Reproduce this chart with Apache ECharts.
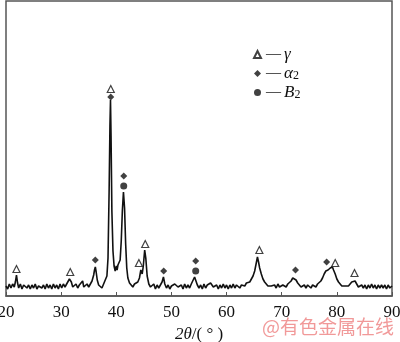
<!DOCTYPE html>
<html>
<head>
<meta charset="utf-8">
<script src="https://cdn.jsdelivr.net/npm/echarts@6/dist/echarts.min.js"></script>
<style>
html, body { margin: 0; padding: 0; background: #fff; }
#xrd { width: 400px; height: 342px; }
</style>
</head>
<body>
<div id="xrd"></div>
<script type="text/javascript">
// XRD 衍射谱 (2θ, 强度)
var angles = [
    20.0, 20.3, 20.6, 20.9, 21.2, 21.5, 21.7, 21.9, 22.1, 22.3, 22.6, 22.9, 23.2, 23.5, 23.8, 24.1, 24.4, 24.7,
    25.0, 25.3, 25.6, 25.9, 26.2, 26.5, 26.8, 27.1, 27.4, 27.7, 28.0, 28.3, 28.6, 28.9, 29.2, 29.5, 29.8,
    30.1, 30.4, 30.7, 31.0, 31.3, 31.5, 31.65, 31.85, 32.1, 32.4, 32.7, 33.0, 33.3, 33.6, 33.9, 34.1, 34.4,
    34.7, 35.0, 35.3, 35.6, 35.9, 36.05, 36.2, 36.35, 36.55, 36.8, 37.1, 37.4, 37.7, 38.0, 38.3, 38.5,
    38.7, 38.85, 38.95, 39.05, 39.2, 39.4, 39.6, 39.8, 40.0, 40.15, 40.3, 40.5, 40.7, 40.9, 41.1, 41.3,
    41.5, 41.7, 41.9, 42.1, 42.4, 42.7, 43.0, 43.3, 43.6, 43.9, 44.2, 44.45, 44.7, 44.9, 45.15, 45.35,
    45.6, 45.9, 46.2, 46.5, 46.8, 47.1, 47.4, 47.7, 48.0, 48.3, 48.55, 48.8, 49.1, 49.4, 49.7, 50.0,
    50.3, 50.6, 50.9, 51.2, 51.5, 51.8, 52.1, 52.4, 52.7, 53.0, 53.3, 53.6, 53.9, 54.2, 54.45, 54.7,
    55.0, 55.3, 55.6, 55.9, 56.2, 56.5, 56.8, 57.1, 57.35, 57.6, 57.9, 58.2, 58.5, 58.8, 59.1, 59.4,
    59.7, 60.0, 60.3, 60.6, 60.9, 61.2, 61.5, 61.8, 62.1, 62.4, 62.7, 63.0, 63.3, 63.6, 63.9, 64.2,
    64.5, 64.8, 65.1, 65.35, 65.6, 65.8, 66.0, 66.3, 66.6, 66.9, 67.2, 67.5, 67.8, 68.1, 68.4, 68.7,
    69.0, 69.3, 69.6, 69.9, 70.2, 70.5, 70.8, 71.1, 71.4, 71.7, 72.0, 72.3, 72.6, 72.9, 73.2, 73.5,
    73.8, 74.1, 74.4, 74.7, 75.0, 75.3, 75.6, 75.9, 76.2, 76.5, 76.8, 77.1, 77.4, 77.7, 78.0, 78.2,
    78.4, 78.6, 78.8, 79.0, 79.2, 79.4, 79.7, 80.0, 80.3, 80.6, 80.9, 81.2, 81.5, 81.8, 82.1, 82.4,
    82.7, 83.0, 83.3, 83.6, 83.9, 84.2, 84.5, 84.8, 85.1, 85.4, 85.7, 86.0, 86.3, 86.6, 86.9, 87.2,
    87.5, 87.8, 88.1, 88.4, 88.7, 89.0, 89.3, 89.6, 90.0
];
var intensity = [
    10, 7, 12, 8, 12, 9, 14, 21, 13, 8, 12, 7, 11, 12, 8, 11, 7, 11,
    8, 12, 7, 10, 12, 8, 11, 7, 12, 8, 11, 7, 12, 8, 11, 7, 12,
    8, 12, 9, 12, 14, 17, 19, 14, 9, 8, 12, 8, 11, 12, 15, 9,
    8, 12, 9, 12, 15, 21, 26, 29, 24, 16, 11, 9, 8, 12, 13, 20, 38,
    105, 170, 196, 160, 85, 45, 30, 25, 30, 26, 31, 29, 36, 55, 85, 104,
    88, 52, 28, 18, 13, 11, 9, 12, 10, 14, 18, 26, 22, 30, 46, 38,
    20, 12, 9, 8, 12, 7, 11, 8, 11, 14, 19, 12, 8, 11, 7, 10,
    8, 12, 13, 9, 8, 11, 7, 12, 8, 11, 8, 12, 14, 19, 15, 11,
    8, 11, 7, 12, 8, 11, 11, 13, 12, 9, 8, 11, 7, 11, 8, 12,
    8, 11, 7, 11, 8, 12, 8, 11, 11, 8, 11, 12, 10, 13, 12, 14,
    16, 20, 25, 32, 39, 34, 28, 22, 17, 14, 12, 10, 11, 10, 8, 11,
    8, 12, 9, 8, 11, 12, 9, 12, 13, 15, 18, 19, 16, 13, 11, 9,
    8, 11, 8, 11, 12, 8, 11, 12, 9, 12, 13, 15, 18, 22, 25, 23,
    26, 24, 28, 27, 29, 26, 22, 17, 14, 12, 10, 11, 10, 11, 10, 12,
    14, 16, 15, 12, 9, 8, 11, 8, 11, 7, 11, 8, 12, 8, 11, 7,
    11, 8, 11, 8, 11, 7, 11, 8, 10
];

// 物相标记位置
var gammaMarks = [[21.9, 27], [31.65, 24], [39.0, 207], [44.1, 33], [45.25, 52], [65.95, 46], [79.7, 33], [83.2, 23]];
var alpha2Marks = [[36.2, 36], [39.0, 199], [41.35, 120], [48.6, 25], [54.4, 35], [72.5, 26], [78.15, 34]];
var b2Marks = [[41.35, 110], [54.4, 25]];

var xTicks = [20, 30, 40, 50, 60, 70, 80, 90];

var curve = angles.map(function (a, i) { return [a, intensity[i]]; });

var chart = echarts.init(document.getElementById('xrd'));
var serif = '"Liberation Serif", "DejaVu Serif", serif';
var option = {
    animation: false,
    grid: {
        left: 6,
        right: 8,
        top: 1,
        bottom: 46,
        outerBoundsMode: 'none',
        containLabel: false,
        show: true,
        borderColor: '#555',
        borderWidth: 1.5
    },
    legend: {
        orient: 'vertical',
        left: 248,
        top: 41,
        itemWidth: 7,
        itemHeight: 7,
        itemGap: 1,
        data: [
            { name: 'γ', icon: 'triangle' },
            { name: 'α2', icon: 'diamond' },
            { name: 'B2', icon: 'circle' }
        ],
        formatter: function (name) {
            if (name === 'γ') return '{d|—} {i|γ}';
            if (name === 'α2') return '{d|—} {i|α}{s|2}';
            return '{d|—} {i|B}{s|2}';
        },
        textStyle: {
            fontFamily: serif,
            color: '#111',
            lineHeight: 17,
            rich: {
                d: { fontSize: 15, fontFamily: serif, color: '#111', lineHeight: 17 },
                i: { fontSize: 17, fontStyle: 'italic', fontFamily: serif, color: '#111', lineHeight: 17 },
                s: { fontSize: 12, fontFamily: serif, color: '#111', lineHeight: 17, verticalAlign: 'bottom', padding: [6, 0, 0, 0] }
            }
        }
    },
    xAxis: {
        type: 'value',
        min: 20,
        max: 90,
        interval: 10,
        name: '{i|2θ}/( ° )',
        nameLocation: 'middle',
        nameGap: 30,
        nameTextStyle: {
            fontFamily: serif,
            fontSize: 17,
            color: '#111',
            rich: {
                i: { fontStyle: 'italic', fontFamily: serif, fontSize: 17, color: '#111' }
            }
        },
        axisLine: { lineStyle: { color: '#555', width: 1.5 } },
        axisTick: { inside: true, length: 4, lineStyle: { color: '#555' } },
        axisLabel: {
            fontFamily: serif,
            fontSize: 17,
            color: '#111',
            margin: 8,
            formatter: function (v) { return xTicks.indexOf(v) >= 0 ? String(v) : ''; }
        },
        splitLine: { show: false }
    },
    yAxis: {
        type: 'value',
        min: 0,
        max: 295,
        axisLine: { show: false },
        axisTick: { show: false },
        axisLabel: { show: false },
        splitLine: { show: false }
    },
    series: [
        {
            name: 'pattern',
            type: 'line',
            data: curve,
            symbol: 'none',
            lineStyle: { color: '#111', width: 1.6 },
            z: 2
        },
        {
            name: 'γ',
            type: 'scatter',
            symbol: 'triangle',
            symbolSize: 7,
            data: gammaMarks,
            itemStyle: { color: '#fff', borderColor: '#111', borderWidth: 1.2 },
            z: 3
        },
        {
            name: 'α2',
            type: 'scatter',
            symbol: 'diamond',
            symbolSize: 7,
            data: alpha2Marks,
            itemStyle: { color: '#111' },
            z: 3
        },
        {
            name: 'B2',
            type: 'scatter',
            symbol: 'circle',
            symbolSize: 7,
            data: b2Marks,
            itemStyle: { color: '#111' },
            z: 3
        }
    ],
    graphic: [{
        type: 'text',
        left: 262,
        top: 317,
        style: {
            text: '@有色金属在线',
            font: '19px "Noto Sans CJK SC"',
            fill: 'rgba(235, 110, 110, 0.7)'
        }
    }]
};
chart.setOption(option);
</script>
</body>
</html>
